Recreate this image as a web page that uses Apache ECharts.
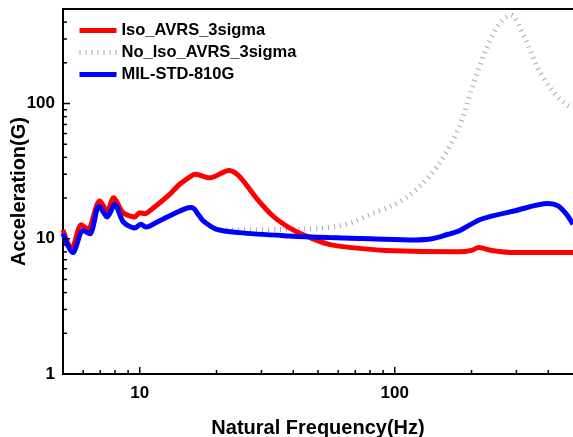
<!DOCTYPE html>
<html>
<head>
<meta charset="utf-8">
<script src="https://cdn.jsdelivr.net/npm/echarts@6/dist/echarts.min.js"></script>
<style>
html,body{margin:0;padding:0;background:#fff;}
#chart{width:573px;height:437px;}
</style>
</head>
<body>
<div id="chart"></div>
<script>
// ---- Data ----
var isoFreq  = [5, 5.4, 5.9, 6.25, 6.97, 7.45, 7.9, 8.6, 9.55, 10, 10.4, 11.3, 13.1, 14.3, 15.9, 16.5, 18.8, 22.4, 24.5, 28.6, 33.2, 38.5, 44.7, 55.2, 67.9, 91.9, 178, 200, 213, 240, 296, 500];
var isoAccel = [11.6, 8.4, 12.7, 11.8, 19.0, 16.1, 20.1, 15.6, 14.5, 15.6, 15.3, 16.9, 21.3, 25.2, 29.1, 30.0, 28.2, 32.0, 29.1, 20.1, 14.8, 12.1, 10.5, 9.1, 8.6, 8.2, 8.0, 8.2, 8.6, 8.2, 7.9, 7.9];

var noIsoFreq  = [5, 5.46, 6.0, 6.37, 6.93, 7.45, 7.98, 8.6, 9.55, 10.1, 10.6, 11.6, 13.5, 15.2, 16.0, 17.1, 19.9, 23, 25, 35, 45, 50.5, 60, 67.9, 81.3, 97.3, 113, 127, 149, 178, 200, 226, 255, 285, 324, 365, 411, 464, 500];
var noIsoAccel = [10.9, 7.9, 11.5, 10.9, 17.5, 14.5, 18.0, 13.4, 12.0, 12.8, 12.2, 13.2, 15.2, 16.8, 17.0, 14.8, 11.8, 11.6, 11.6, 11.7, 11.8, 11.9, 12.4, 13.2, 15.3, 17.5, 20.7, 25.0, 35.6, 65.5, 127, 241, 381, 451, 302, 181, 127, 100, 93];

var milFreq  = [5, 5.46, 6.0, 6.37, 6.93, 7.45, 7.98, 8.6, 9.55, 10.1, 10.6, 11.6, 13.5, 15.2, 16.0, 17.1, 17.7, 19.9, 24.5, 38.5, 55.2, 80, 120, 140, 162, 178, 189, 219, 296, 399, 437, 471, 500];
var milAccel = [10.9, 7.9, 11.5, 10.9, 17.5, 14.5, 18.0, 13.4, 12.0, 12.8, 12.2, 13.2, 15.2, 16.8, 17.0, 14.8, 13.6, 11.8, 11.1, 10.5, 10.2, 10.0, 9.8, 10.0, 10.8, 11.4, 12.1, 14.0, 16.1, 18.2, 17.5, 15.2, 12.8];

var seriesNames = ['Iso_AVRS_3sigma', 'No_Iso_AVRS_3sigma', 'MIL-STD-810G'];

// axis tick values
var xMajorTicks = [10, 100];
var xMinorTicks = [6, 7, 8, 9, 20, 30, 40, 50, 60, 70, 80, 90, 200, 300, 400];
var yMajorTicks = [1, 10, 100];
var yMinorTicks = [2, 3, 4, 5, 6, 7, 8, 9, 20, 30, 40, 50, 60, 70, 80, 90, 200, 300, 400];

var xMin = 5, xMax = 500, yMin = 1, yMax = 500;

function pairs(f, v) { return f.map(function (x, i) { return [x, v[i]]; }); }

var FONT = '"Liberation Sans", Arial, Helvetica, sans-serif';

var tickData = [];
xMajorTicks.forEach(function (v) { tickData.push([v, yMin, 0, 7]); });
xMinorTicks.forEach(function (v) { tickData.push([v, yMin, 0, 4]); });
yMajorTicks.forEach(function (v) { tickData.push([xMin, v, 1, 7]); });
yMinorTicks.forEach(function (v) { tickData.push([xMin, v, 1, 4]); });

var chart = echarts.init(document.getElementById('chart'), null, { renderer: 'canvas' });

var option = {
  animation: false,
  backgroundColor: '#ffffff',
  grid: { left: 63, right: 0, top: 9, bottom: 63, containLabel: false, outerBoundsMode: 'none' },
  legend: {
    data: seriesNames,
    orient: 'vertical',
    left: 72,
    top: 17,
    itemWidth: 37,
    itemHeight: 14,
    itemGap: 5,
    itemStyle: { opacity: 0 },
    lineStyle: { width: 5 },
    textStyle: { fontFamily: FONT, fontWeight: 'bold', fontSize: 16.5, color: '#000' }
  },
  xAxis: [{
    type: 'log',
    logBase: 10,
    min: xMin,
    max: xMax,
    name: 'Natural Frequency(Hz)',
    nameLocation: 'middle',
    nameGap: 44,
    nameMoveOverlap: false,
    nameTextStyle: { fontFamily: FONT, fontWeight: 'bold', fontSize: 20, color: '#000' },
    axisLine: { show: true, lineStyle: { color: '#000', width: 2 } },
    axisTick: { show: false },
    splitLine: { show: false },
    minorTick: { show: false },
    axisLabel: {
      showMinLabel: false, showMaxLabel: false, margin: 11,
      fontFamily: FONT, fontWeight: 'bold', fontSize: 17, color: '#000',
      formatter: function (v) { return (v === 10 || v === 100) ? String(v) : ''; }
    }
  }, {
    type: 'log',
    position: 'top',
    min: xMin,
    max: xMax,
    axisLine: { show: true, lineStyle: { color: '#000', width: 2 } },
    axisTick: { show: false },
    axisLabel: { show: false },
    splitLine: { show: false }
  }],
  yAxis: [{
    type: 'log',
    logBase: 10,
    min: yMin,
    max: yMax,
    name: 'Acceleration(G)',
    nameLocation: 'middle',
    nameGap: 34,
    nameMoveOverlap: false,
    nameTextStyle: { fontFamily: FONT, fontWeight: 'bold', fontSize: 20, color: '#000' },
    axisLine: { show: true, lineStyle: { color: '#000', width: 2 } },
    axisTick: { show: false },
    splitLine: { show: false },
    axisLabel: {
      showMinLabel: true, showMaxLabel: false, margin: 8,
      fontFamily: FONT, fontWeight: 'bold', fontSize: 17, color: '#000',
      formatter: function (v) { return (v === 1 || v === 10 || v === 100) ? String(v) : ''; }
    }
  }],
  series: [
    {
      name: 'No_Iso_AVRS_3sigma',
      type: 'line',
      data: pairs(noIsoFreq, noIsoAccel),
      symbol: 'none',
      smooth: 0.3,
      lineStyle: { color: '#a8a8a8', width: 5, type: [1, 5] },
      itemStyle: { color: '#a8a8a8' },
      z: 2
    },
    {
      name: 'Iso_AVRS_3sigma',
      type: 'line',
      data: pairs(isoFreq, isoAccel),
      symbol: 'none',
      smooth: 0.3,
      lineStyle: { color: '#ff0000', width: 5 },
      itemStyle: { color: '#ff0000' },
      z: 3
    },
    {
      name: 'MIL-STD-810G',
      type: 'line',
      data: pairs(milFreq, milAccel),
      symbol: 'none',
      smooth: 0.3,
      lineStyle: { color: '#0000ff', width: 5 },
      itemStyle: { color: '#0000ff' },
      z: 4
    },
    {
      type: 'custom',
      silent: true,
      clip: false,
      z: 5,
      data: tickData,
      renderItem: function (params, api) {
        var p = api.coord([api.value(0), api.value(1)]);
        var dir = api.value(2), len = api.value(3);
        var shape = dir === 0
          ? { x1: p[0], y1: p[1], x2: p[0], y2: p[1] - len }
          : { x1: p[0], y1: p[1], x2: p[0] + len, y2: p[1] };
        return { type: 'line', shape: shape, style: { stroke: '#000', lineWidth: 1.5 } };
      }
    }
  ]
};
chart.setOption(option);
</script>
</body>
</html>
